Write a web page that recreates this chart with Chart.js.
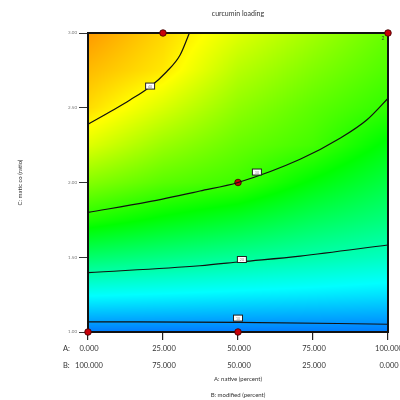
<!DOCTYPE html>
<html>
<head>
<meta charset="utf-8">
<script src="https://cdn.jsdelivr.net/npm/chart.js@4.4.0/dist/chart.umd.min.js"></script>
<style>
html,body{margin:0;padding:0;background:#fff}
#wrap{width:400px;height:400px}
</style>
</head>
<body>
<div id="wrap"><canvas id="c" width="400" height="400"></canvas></div>
<script>
const titleText = 'curcumin loading'
const xTitle = ['A: native (percent)', 'B: modified (percent)']
const yTitle = 'C: matic co (ratio)'
const aTicks = [0, 25, 50, 75, 100]
const aTickLabels = ['0.000', '25.000', '50.000', '75.000', '100.000']
const bTickLabels = ['100.000', '75.000', '50.000', '25.000', '0.000']

// surface (0 = blue ... 1 = red), rows follow gridC, cols follow gridA
const gridA = [0, 25, 50, 75, 100]
const gridC = [1.0, 1.25, 1.5, 1.75, 2.0, 2.25, 2.5, 2.75, 3.0]
const gridZ = [
  [0.12, 0.12, 0.12, 0.12, 0.12],
  [0.255, 0.247, 0.238, 0.23, 0.221],
  [0.395, 0.373, 0.352, 0.332, 0.311],
  [0.53, 0.49, 0.456, 0.413, 0.378],
  [0.63, 0.586, 0.56, 0.493, 0.434],
  [0.72, 0.65, 0.60, 0.565, 0.49],
  [0.785, 0.714, 0.64, 0.59, 0.547],
  [0.817, 0.772, 0.68, 0.625, 0.577],
  [0.85, 0.79, 0.72, 0.66, 0.60]
]

// contour lines
const contour1A = [0, 8.4, 14, 20.7, 26.2, 30.7, 33.8]
const contour1C = [2.39, 2.485, 2.552, 2.641, 2.741, 2.853, 3.0]
const contour2A = [0, 20, 37.3, 50, 70.7, 84, 92.9, 100]
const contour2C = [1.80, 1.87, 1.943, 2.0, 2.155, 2.296, 2.418, 2.563]
const contour3A = [0, 37.3, 51, 70.7, 100]
const contour3C = [1.397, 1.443, 1.47, 1.508, 1.582]
const contour4A = [0, 50, 100]
const contour4C = [1.068, 1.065, 1.052]

// contour value flags
const flagA = [20.7, 56.3, 51.3, 50]
const flagC = [2.645, 2.07, 1.485, 1.093]
const flagText = ['40', '30', '20', '10']

// design points
const designA = [25, 100, 50, 0, 50]
const designC = [3, 3, 2, 1, 1]

const FONT = 'Lato, "Open Sans", sans-serif'
const pts = (xs, ys) => xs.map((v, i) => ({x: v, y: ys[i]}))

const stops = [[0, [0,0,255]], [0.25, [0,255,255]], [0.5, [0,255,0]], [0.75, [255,255,0]], [1, [255,0,0]]]
function colour(t){
  t = Math.max(0, Math.min(1, t))
  for(let i=1;i<stops.length;i++){
    if(t <= stops[i][0]){
      const [t0, c0] = stops[i-1], [t1, c1] = stops[i]
      const f = (t - t0) / (t1 - t0)
      return c0.map((v, k) => Math.round(v + (c1[k] - v) * f))
    }
  }
  return stops[stops.length-1][1]
}
function idx(arr, v){
  let i = 0
  while(i < arr.length - 2 && v > arr[i+1]) i++
  const f = Math.max(0, Math.min(1, (v - arr[i]) / (arr[i+1] - arr[i])))
  return [i, f]
}
function surface(a, c){
  const [i, fx] = idx(gridA, a)
  const [j, fy] = idx(gridC, c)
  const z00 = gridZ[j][i], z10 = gridZ[j][i+1], z01 = gridZ[j+1][i], z11 = gridZ[j+1][i+1]
  return (z00*(1-fx) + z10*fx)*(1-fy) + (z01*(1-fx) + z11*fx)*fy
}

const heatmap = {
  id: 'heatmap',
  beforeDatasetsDraw(chart){
    const {ctx, chartArea: ca, scales: {x, y}} = chart
    const l = Math.round(ca.left), t = Math.round(ca.top)
    const w = Math.round(ca.right) - l, h = Math.round(ca.bottom) - t
    const img = ctx.createImageData(w, h)
    for(let j=0;j<h;j++){
      const c = y.getValueForPixel(t + j + 0.5)
      for(let i=0;i<w;i++){
        const a = x.getValueForPixel(l + i + 0.5)
        const col = colour(surface(a, c))
        const k = (j*w + i)*4
        img.data[k] = col[0]; img.data[k+1] = col[1]; img.data[k+2] = col[2]; img.data[k+3] = 255
      }
    }
    ctx.putImageData(img, l, t)
    ctx.save()
    ctx.strokeStyle = '#111'
    ctx.lineWidth = 2
    ctx.strokeRect(ca.left, ca.top, ca.right - ca.left, ca.bottom - ca.top)
    ctx.restore()
  }
}

const flags = {
  id: 'flags',
  afterDatasetsDraw(chart){
    const {ctx, scales: {x, y}} = chart
    ctx.save()
    flagA.forEach((a, i) => {
      const px = x.getPixelForValue(a), py = y.getPixelForValue(flagC[i])
      ctx.fillStyle = '#fff'
      ctx.fillRect(px - 4.5, py - 3, 9, 6)
      ctx.strokeStyle = '#222'
      ctx.lineWidth = 1
      ctx.strokeRect(px - 4.5, py - 3, 9, 6)
      ctx.fillStyle = '#888'
      ctx.font = '3.5px ' + FONT
      ctx.textAlign = 'center'
      ctx.textBaseline = 'middle'
      ctx.fillText(flagText[i], px, py + 0.5)
    })
    // replicate count next to the top right design point
    ctx.fillStyle = '#333'
    ctx.font = '5px ' + FONT
    ctx.fillText('2', x.getPixelForValue(100) - 5, y.getPixelForValue(3) + 5)
    ctx.restore()
  }
}

const texts = {
  id: 'texts',
  afterDraw(chart){
    const {ctx, chartArea: ca, scales: {x}} = chart
    const cx = (ca.left + ca.right) / 2
    const cy = (ca.top + ca.bottom) / 2
    ctx.save()
    ctx.fillStyle = '#333'
    ctx.textBaseline = 'middle'
    ctx.textAlign = 'center'
    ctx.font = '7px ' + FONT
    ctx.fillText(titleText, cx, 14)
    ctx.font = '7.5px ' + FONT
    aTicks.forEach((a, i) => {
      const px = x.getPixelForValue(a)
      ctx.fillText(aTickLabels[i], px + 1, 349)
      ctx.fillText(bTickLabels[i], px + 1, 366)
    })
    ctx.textAlign = 'left'
    ctx.fillText('A:', 63, 349)
    ctx.fillText('B:', 63, 366)
    ctx.textAlign = 'center'
    ctx.font = '6px ' + FONT
    ctx.fillText(xTitle[0], cx, 379)
    ctx.fillText(xTitle[1], cx, 395)
    ctx.translate(20, cy)
    ctx.rotate(-Math.PI / 2)
    ctx.fillText(yTitle, 0, 0)
    ctx.restore()
  }
}

const lineDs = (xs, ys) => ({
  data: pts(xs, ys), showLine: true, borderColor: '#111', borderWidth: 1.2,
  pointRadius: 0, cubicInterpolationMode: 'monotone', fill: false
})

new Chart(document.getElementById('c'), {
  type: 'scatter',
  data: {
    datasets: [
      lineDs(contour1A, contour1C),
      lineDs(contour2A, contour2C),
      lineDs(contour3A, contour3C),
      lineDs(contour4A, contour4C),
      {
        data: pts(designA, designC), pointRadius: 3.3, pointBackgroundColor: '#c8000a',
        pointBorderColor: '#3a0000', pointBorderWidth: 0.8, showLine: false, clip: false
      }
    ]
  },
  options: {
    responsive: false,
    animation: false,
    devicePixelRatio: 1,
    layout: { padding: { top: 33, right: 12, left: 0, bottom: 0 } },
    plugins: { legend: { display: false }, tooltip: { enabled: false }, title: { display: false } },
    scales: {
      x: {
        type: 'linear', min: 0, max: 100, position: 'bottom',
        afterBuildTicks: s => { s.ticks = aTicks.map(v => ({value: v})) },
        ticks: { display: false },
        grid: { drawOnChartArea: false, drawTicks: true, tickLength: 8, color: '#222', lineWidth: 1.2 },
        border: { display: false },
        afterFit: s => { s.height = 68 }
      },
      y: {
        type: 'linear', min: 1, max: 3,
        ticks: { stepSize: 0.5, callback: v => Number(v).toFixed(2), font: { size: 4.5, family: FONT }, color: '#777', padding: 2 },
        grid: { drawOnChartArea: false, drawTicks: true, tickLength: 9, color: '#333', lineWidth: 1 },
        border: { display: false },
        afterFit: s => { s.width = 88 }
      }
    }
  },
  plugins: [heatmap, flags, texts]
})
</script>
</body>
</html>
